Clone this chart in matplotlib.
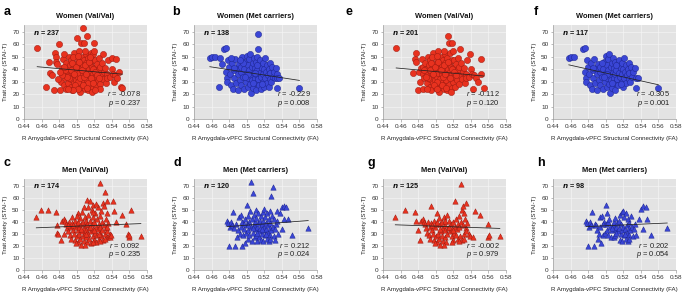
import matplotlib
matplotlib.use("Agg")
import matplotlib.pyplot as plt

plt.rcParams['font.family'] = ['Liberation Sans', 'DejaVu Sans']
plt.rcParams['mathtext.fontset'] = 'custom'
plt.rcParams['mathtext.it'] = 'Liberation Sans:italic'
plt.rcParams['mathtext.bf'] = 'Liberation Sans:bold'

# ---------------- data ----------------
titles = ["Women (Val/Val)", "Women (Met carriers)", "Men (Val/Val)", "Men (Met carriers)",
          "Women (Val/Val)", "Women (Met carriers)", "Men (Val/Val)", "Men (Met carriers)"]
letters = ["a", "b", "c", "d", "e", "f", "g", "h"]
n_vals = [237, 138, 174, 120, 201, 117, 125, 98]
r_vals = ["-0.078", "-0.229", "0.092", "0.212", "-0.112", "-0.305", "-0.002", "0.202"]
p_vals = ["0.237", "0.008", "0.235", "0.024", "0.120", "0.001", "0.979", "0.054"]
# fitted line values at the smallest and largest FA of each panel
fit_y = [[42, 36], [42, 31], [35, 38.5], [36, 41], [41, 34.5], [43.5, 27.5], [37.5, 34.5], [36, 39]]

a_x = [0.455, 0.465, 0.468, 0.470, 0.472, 0.474, 0.475, 0.476, 0.476, 0.478,
       0.480, 0.481, 0.482, 0.483, 0.484, 0.485, 0.485, 0.486, 0.487, 0.488,
       0.488, 0.489, 0.490, 0.490, 0.491, 0.492, 0.492, 0.493, 0.494, 0.494,
       0.495, 0.495, 0.496, 0.497, 0.497, 0.498, 0.498, 0.499, 0.500, 0.500,
       0.500, 0.501, 0.501, 0.502, 0.502, 0.503, 0.503, 0.504, 0.504, 0.505,
       0.505, 0.505, 0.506, 0.506, 0.507, 0.507, 0.507, 0.508, 0.508, 0.508,
       0.509, 0.509, 0.510, 0.510, 0.510, 0.511, 0.511, 0.512, 0.512, 0.512,
       0.513, 0.513, 0.514, 0.514, 0.515, 0.515, 0.516, 0.516, 0.517, 0.517,
       0.518, 0.518, 0.519, 0.519, 0.520, 0.520, 0.520, 0.520, 0.521, 0.521,
       0.522, 0.522, 0.523, 0.524, 0.524, 0.525, 0.525, 0.526, 0.527, 0.527,
       0.528, 0.529, 0.530, 0.530, 0.531, 0.532, 0.533, 0.534, 0.535, 0.536,
       0.538, 0.540, 0.540, 0.541, 0.543, 0.544, 0.545, 0.546, 0.548, 0.550,
       0.552, 0.491, 0.493, 0.495, 0.497, 0.499, 0.501, 0.503, 0.504, 0.506,
       0.508, 0.509, 0.511, 0.513, 0.514, 0.516, 0.518, 0.519, 0.521, 0.523,
       0.525, 0.496, 0.502, 0.509, 0.515, 0.489, 0.487, 0.486, 0.483, 0.481,
       0.479, 0.498, 0.502, 0.507, 0.512, 0.517, 0.521, 0.496, 0.490]
a_y = [57, 26, 46, 37, 35, 23, 53, 50, 46, 44,
       60, 23, 30, 41, 48, 52, 36, 27, 33, 45,
       24, 40, 38, 29, 50, 35, 43, 26, 32, 47,
       38, 23, 41, 29, 53, 35, 44, 31, 65, 39,
       25, 48, 34, 42, 28, 55, 37, 22, 45, 61,
       32, 40, 50, 26, 73, 36, 43, 61, 30, 47,
       38, 24, 52, 34, 41, 28, 45, 67, 37, 31,
       49, 23, 40, 35, 44, 27, 38, 53, 32, 42,
       25, 47, 36, 52, 61, 55, 30, 41, 47, 34,
       38, 26, 44, 31, 36, 49, 40, 28, 24, 42,
       35, 45, 52, 32, 38, 41, 29, 36, 33, 47,
       34, 40, 49, 36, 30, 35, 48, 33, 38, 26,
       25, 33, 39, 45, 36, 42, 30, 46, 33, 39,
       34, 43, 36, 29, 46, 33, 40, 29, 38, 35,
       33, 50, 51, 55, 50, 34, 39, 42, 35, 38,
       32, 27, 24, 27, 25, 22, 23, 23, 24]

b_x = [0.458, 0.461, 0.464, 0.468, 0.470, 0.472, 0.474, 0.476, 0.476, 0.477,
       0.478, 0.479, 0.480, 0.481, 0.482, 0.483, 0.484, 0.485, 0.486, 0.487,
       0.488, 0.489, 0.490, 0.490, 0.491, 0.492, 0.493, 0.494, 0.494, 0.495,
       0.496, 0.497, 0.497, 0.498, 0.499, 0.500, 0.500, 0.501, 0.501, 0.502,
       0.503, 0.503, 0.504, 0.504, 0.505, 0.505, 0.506, 0.506, 0.507, 0.507,
       0.508, 0.508, 0.509, 0.509, 0.510, 0.510, 0.511, 0.511, 0.512, 0.512,
       0.513, 0.513, 0.513, 0.514, 0.514, 0.515, 0.515, 0.516, 0.516, 0.517,
       0.518, 0.518, 0.519, 0.520, 0.520, 0.521, 0.521, 0.522, 0.523, 0.523,
       0.524, 0.525, 0.525, 0.526, 0.527, 0.527, 0.528, 0.529, 0.530, 0.531,
       0.532, 0.533, 0.534, 0.535, 0.535, 0.537, 0.496, 0.502, 0.507, 0.512,
       0.517, 0.509, 0.498, 0.492, 0.486, 0.482, 0.560]
b_y = [49, 50, 50, 26, 49, 44, 56, 57, 38, 33,
       30, 47, 42, 36, 27, 45, 24, 39, 33, 48,
       29, 41, 23, 36, 44, 31, 38, 27, 42, 50,
       34, 24, 40, 46, 30, 37, 51, 26, 43, 33,
       39, 48, 28, 52, 35, 21, 42, 31, 45, 25,
       37, 49, 33, 41, 29, 46, 36, 23, 39, 50,
       68, 56, 32, 44, 27, 37, 47, 34, 24, 41,
       30, 45, 36, 26, 40, 33, 49, 38, 29, 43,
       35, 26, 40, 32, 45, 37, 30, 42, 34, 38,
       33, 41, 36, 25, 33, 33, 45, 36, 29, 43,
       28, 37, 34, 47, 41, 49, 25]

c_x = [0.454, 0.459, 0.467, 0.476, 0.477, 0.478, 0.479, 0.482, 0.483, 0.485,
       0.487, 0.488, 0.489, 0.490, 0.491, 0.492, 0.493, 0.494, 0.495, 0.495,
       0.496, 0.497, 0.498, 0.498, 0.499, 0.500, 0.500, 0.501, 0.501, 0.502,
       0.502, 0.503, 0.503, 0.504, 0.504, 0.505, 0.505, 0.506, 0.506, 0.507,
       0.507, 0.508, 0.508, 0.509, 0.509, 0.510, 0.510, 0.511, 0.511, 0.512,
       0.512, 0.512, 0.513, 0.513, 0.514, 0.514, 0.515, 0.515, 0.516, 0.516,
       0.517, 0.517, 0.518, 0.518, 0.519, 0.519, 0.520, 0.520, 0.521, 0.521,
       0.522, 0.522, 0.523, 0.523, 0.524, 0.524, 0.525, 0.525, 0.526, 0.526,
       0.527, 0.527, 0.528, 0.528, 0.529, 0.529, 0.530, 0.530, 0.531, 0.531,
       0.532, 0.532, 0.533, 0.533, 0.534, 0.534, 0.535, 0.535, 0.536, 0.537,
       0.538, 0.538, 0.539, 0.541, 0.543, 0.545, 0.551, 0.556, 0.558, 0.560,
       0.560, 0.562, 0.573, 0.496, 0.500, 0.505, 0.510, 0.515, 0.520, 0.525,
       0.490, 0.486, 0.508, 0.513, 0.518, 0.522, 0.499, 0.509, 0.519, 0.527,
       0.532, 0.535]
c_y = [44, 50, 50, 48, 37, 31, 30, 25, 41, 42,
       41, 38, 35, 32, 40, 29, 36, 26, 39, 44,
       33, 30, 41, 25, 36, 28, 38, 47, 33, 23,
       40, 30, 36, 26, 43, 21, 38, 32, 48, 28,
       40, 35, 24, 44, 31, 37, 27, 41, 33, 58,
       23, 38, 30, 46, 35, 26, 57, 41, 32, 22,
       38, 50, 28, 44, 34, 54, 25, 40, 31, 47,
       36, 23, 42, 29, 34, 52, 38, 26, 45, 31,
       72, 36, 28, 49, 40, 33, 56, 25, 37, 53,
       65, 30, 42, 35, 27, 47, 57, 32, 39, 28,
       30, 27, 29, 57, 49, 40, 46, 38, 30, 27,
       29, 50, 28, 37, 45, 34, 30, 36, 33, 30,
       37, 30, 52, 52, 48, 55, 22, 21, 23, 24,
       26, 36]

d_x = [0.478, 0.479, 0.480, 0.481, 0.482, 0.483, 0.484, 0.486, 0.487, 0.488,
       0.489, 0.490, 0.491, 0.492, 0.493, 0.494, 0.495, 0.495, 0.496, 0.497,
       0.498, 0.498, 0.499, 0.500, 0.500, 0.501, 0.501, 0.502, 0.503, 0.503,
       0.504, 0.505, 0.505, 0.506, 0.506, 0.507, 0.507, 0.508, 0.508, 0.509,
       0.509, 0.510, 0.510, 0.511, 0.511, 0.512, 0.512, 0.513, 0.513, 0.514,
       0.514, 0.515, 0.515, 0.516, 0.516, 0.517, 0.517, 0.518, 0.518, 0.519,
       0.519, 0.520, 0.520, 0.521, 0.521, 0.522, 0.522, 0.523, 0.523, 0.524,
       0.524, 0.525, 0.525, 0.526, 0.526, 0.527, 0.527, 0.528, 0.528, 0.529,
       0.530, 0.530, 0.531, 0.531, 0.532, 0.533, 0.534, 0.535, 0.536, 0.538,
       0.540, 0.540, 0.542, 0.543, 0.545, 0.547, 0.551, 0.570, 0.497, 0.502,
       0.507, 0.512, 0.517, 0.522, 0.527, 0.532]
d_y = [41, 39, 20, 36, 40, 37, 48, 35, 20, 38,
       27, 33, 44, 30, 36, 46, 20, 40, 29, 34,
       22, 42, 31, 38, 54, 26, 45, 33, 40, 29,
       49, 73, 36, 24, 42, 64, 31, 37, 46, 27,
       40, 34, 50, 29, 43, 36, 24, 39, 47, 32,
       27, 41, 35, 25, 45, 38, 30, 48, 33, 24,
       41, 36, 51, 29, 44, 34, 39, 26, 47, 31,
       37, 42, 24, 35, 49, 29, 39, 61, 33, 45,
       69, 36, 28, 42, 34, 38, 49, 41, 30, 47,
       52, 34, 42, 53, 52, 42, 29, 35, 38, 37,
       35, 31, 34, 30, 26, 25]

e_x = [0.455, 0.474, 0.476, 0.477, 0.478, 0.480, 0.481, 0.482, 0.483, 0.484,
       0.485, 0.485, 0.486, 0.487, 0.488, 0.489, 0.490, 0.490, 0.491, 0.492,
       0.493, 0.494, 0.494, 0.495, 0.495, 0.496, 0.497, 0.497, 0.498, 0.498,
       0.499, 0.500, 0.500, 0.501, 0.501, 0.502, 0.502, 0.503, 0.503, 0.504,
       0.504, 0.505, 0.505, 0.506, 0.506, 0.507, 0.507, 0.508, 0.508, 0.509,
       0.509, 0.510, 0.510, 0.510, 0.511, 0.511, 0.512, 0.512, 0.513, 0.513,
       0.514, 0.514, 0.515, 0.515, 0.515, 0.516, 0.516, 0.517, 0.517, 0.518,
       0.518, 0.519, 0.519, 0.520, 0.520, 0.520, 0.521, 0.521, 0.522, 0.522,
       0.523, 0.524, 0.525, 0.525, 0.526, 0.527, 0.528, 0.528, 0.529, 0.530,
       0.531, 0.532, 0.533, 0.534, 0.535, 0.536, 0.538, 0.539, 0.540, 0.541,
       0.542, 0.544, 0.546, 0.548, 0.551, 0.552, 0.555, 0.491, 0.493, 0.495,
       0.497, 0.499, 0.501, 0.503, 0.506, 0.508, 0.509, 0.511, 0.514, 0.516,
       0.518, 0.521, 0.523, 0.496, 0.502, 0.509, 0.489, 0.487, 0.498, 0.502,
       0.507, 0.512, 0.517, 0.490]
e_y = [57, 37, 48, 53, 46, 23, 38, 30, 41, 48,
       24, 36, 42, 33, 45, 40, 29, 35, 50, 43,
       26, 32, 47, 38, 23, 41, 29, 53, 35, 44,
       31, 39, 25, 48, 34, 42, 28, 55, 37, 22,
       45, 32, 40, 50, 26, 36, 43, 30, 47, 38,
       24, 52, 34, 41, 28, 45, 37, 31, 49, 23,
       67, 40, 61, 44, 27, 38, 53, 32, 42, 25,
       47, 61, 36, 55, 30, 41, 47, 34, 38, 26,
       44, 31, 49, 40, 28, 42, 56, 35, 45, 32,
       38, 41, 29, 36, 33, 47, 34, 52, 40, 36,
       24, 35, 33, 30, 48, 36, 25, 33, 39, 45,
       36, 42, 30, 46, 39, 34, 43, 36, 46, 33,
       40, 38, 35, 50, 51, 55, 34, 39, 27, 24,
       27, 25, 22, 24]

f_x = [0.458, 0.461, 0.464, 0.474, 0.476, 0.476, 0.477, 0.478, 0.479, 0.480,
       0.481, 0.482, 0.483, 0.484, 0.485, 0.486, 0.487, 0.488, 0.489, 0.490,
       0.490, 0.491, 0.492, 0.493, 0.494, 0.494, 0.496, 0.497, 0.497, 0.498,
       0.499, 0.500, 0.500, 0.501, 0.501, 0.502, 0.503, 0.503, 0.504, 0.504,
       0.505, 0.505, 0.506, 0.506, 0.507, 0.507, 0.508, 0.508, 0.509, 0.509,
       0.510, 0.510, 0.511, 0.511, 0.512, 0.513, 0.514, 0.514, 0.515, 0.515,
       0.516, 0.517, 0.518, 0.518, 0.519, 0.520, 0.520, 0.521, 0.521, 0.522,
       0.523, 0.523, 0.524, 0.525, 0.526, 0.527, 0.527, 0.528, 0.529, 0.530,
       0.531, 0.533, 0.534, 0.535, 0.537, 0.496, 0.502, 0.507, 0.512, 0.517,
       0.498, 0.486, 0.560]
f_y = [49, 50, 50, 56, 57, 38, 33, 30, 47, 42,
       36, 27, 45, 24, 39, 33, 48, 29, 41, 23,
       36, 44, 31, 38, 27, 42, 34, 24, 40, 46,
       30, 37, 51, 26, 43, 33, 39, 48, 28, 52,
       35, 21, 42, 31, 45, 25, 37, 49, 33, 41,
       29, 46, 36, 23, 39, 32, 44, 27, 37, 47,
       34, 41, 30, 45, 36, 26, 40, 33, 49, 38,
       29, 43, 35, 40, 32, 45, 37, 30, 42, 34,
       38, 41, 33, 25, 33, 45, 36, 29, 43, 28,
       34, 41, 25]

g_x = [0.454, 0.465, 0.476, 0.478, 0.480, 0.482, 0.483, 0.485, 0.487, 0.488,
       0.489, 0.490, 0.491, 0.492, 0.493, 0.494, 0.495, 0.495, 0.496, 0.497,
       0.498, 0.498, 0.499, 0.500, 0.500, 0.501, 0.502, 0.502, 0.503, 0.504,
       0.504, 0.505, 0.505, 0.506, 0.507, 0.507, 0.508, 0.508, 0.509, 0.510,
       0.510, 0.511, 0.511, 0.512, 0.513, 0.513, 0.514, 0.515, 0.516, 0.517,
       0.518, 0.519, 0.520, 0.520, 0.521, 0.522, 0.522, 0.523, 0.523, 0.524,
       0.525, 0.525, 0.526, 0.527, 0.528, 0.529, 0.529, 0.530, 0.530, 0.531,
       0.531, 0.532, 0.532, 0.533, 0.534, 0.535, 0.535, 0.536, 0.538, 0.539,
       0.543, 0.545, 0.550, 0.560, 0.560, 0.561, 0.573, 0.496, 0.505, 0.515,
       0.520, 0.499, 0.509, 0.519, 0.527, 0.532]
g_y = [44, 50, 48, 41, 33, 25, 41, 42, 40, 38,
       35, 31, 40, 29, 36, 26, 39, 53, 33, 30,
       41, 25, 36, 28, 38, 47, 23, 40, 30, 26,
       43, 21, 38, 32, 28, 40, 35, 24, 44, 37,
       27, 41, 33, 23, 30, 46, 35, 41, 32, 38,
       28, 34, 25, 40, 31, 57, 36, 42, 29, 34,
       38, 26, 45, 36, 28, 71, 40, 25, 50, 37,
       53, 47, 30, 42, 35, 56, 32, 39, 30, 28,
       27, 49, 46, 38, 27, 29, 28, 37, 34, 36,
       33, 22, 21, 23, 24, 26]

h_x = [0.478, 0.479, 0.480, 0.481, 0.482, 0.483, 0.484, 0.487, 0.488, 0.489,
       0.490, 0.491, 0.492, 0.493, 0.494, 0.495, 0.496, 0.497, 0.498, 0.499,
       0.500, 0.500, 0.501, 0.502, 0.503, 0.503, 0.504, 0.505, 0.506, 0.507,
       0.508, 0.509, 0.509, 0.510, 0.511, 0.511, 0.512, 0.513, 0.514, 0.515,
       0.515, 0.516, 0.516, 0.517, 0.517, 0.518, 0.518, 0.519, 0.520, 0.520,
       0.521, 0.521, 0.522, 0.523, 0.523, 0.524, 0.524, 0.525, 0.525, 0.526,
       0.527, 0.527, 0.528, 0.529, 0.530, 0.531, 0.532, 0.533, 0.535, 0.538,
       0.540, 0.543, 0.543, 0.546, 0.547, 0.551, 0.570, 0.497, 0.507, 0.512,
       0.522, 0.527]
h_y = [41, 39, 20, 36, 40, 37, 48, 20, 38, 37,
       33, 26, 30, 36, 44, 22, 45, 29, 40, 31,
       54, 38, 47, 33, 40, 29, 42, 36, 27, 33,
       37, 27, 40, 34, 29, 43, 36, 39, 32, 41,
       35, 25, 46, 38, 30, 48, 33, 24, 36, 49,
       29, 44, 34, 26, 47, 31, 37, 42, 24, 35,
       29, 39, 33, 45, 36, 28, 34, 38, 29, 42,
       51, 53, 34, 52, 42, 29, 35, 38, 35, 31,
       30, 26]

xs = [a_x, b_x, c_x, d_x, e_x, f_x, g_x, h_x]
ys = [a_y, b_y, c_y, d_y, e_y, f_y, g_y, h_y]

# ---------------- layout ----------------
W, H = 685, 301
fig = plt.figure(figsize=(W / 100, H / 100), dpi=100)

col_left = [24, 194, 383, 553]
ax_w = 123
row_top = [25, 179]
row_bot = [119, 270]
letter_pos = [(4, 12), (172, 12), (3, 163), (173, 163), (346, 12), (534, 12), (367, 163), (537, 163)]

red_face, red_edge = '#e8321f', '#9c1a10'
blue_face, blue_edge = '#3a46d6', '#1c2590'

xticks = [0.44, 0.46, 0.48, 0.5, 0.52, 0.54, 0.56, 0.58]
xticklabels = ["0.44", "0.46", "0.48", "0.5", "0.52", "0.54", "0.56", "0.58"]
yticks = [0, 10, 20, 30, 40, 50, 60, 70]

for i in range(8):
    col = (i // 4) * 2 + (i % 2)
    row = (i % 4) // 2
    left = col_left[col]
    top, bot = row_top[row], row_bot[row]
    ax = fig.add_axes([left / W, 1 - bot / H, ax_w / W, (bot - top) / H])
    ax.set_facecolor('#e3e3e3')
    ax.set_xlim(0.44, 0.58)
    ax.set_ylim(0, 75.5)
    ax.set_xticks(xticks)
    ax.set_xticklabels(xticklabels)
    ax.set_yticks(yticks)
    ax.grid(True, color='#f4f4f4', linewidth=0.5)
    ax.set_axisbelow(True)
    for s in ['top', 'right']:
        ax.spines[s].set_visible(False)
    for s in ['left', 'bottom']:
        ax.spines[s].set_color('#9a9a9a')
        ax.spines[s].set_linewidth(0.5)
    ax.tick_params(axis='both', labelsize=4.6, length=1.8, width=0.4, color='#888888', pad=1.5,
                   labelcolor='#333333')

    women = i in (0, 1, 4, 5)
    val = i in (0, 2, 4, 6)
    face, edge = (red_face, red_edge) if val else (blue_face, blue_edge)
    marker = 'o' if women else '^'
    size = 20 if women else 15
    ax.scatter(xs[i], ys[i], s=size, marker=marker, facecolor=face, edgecolor=edge,
               linewidths=0.35, zorder=3)
    x0, x1 = min(xs[i]), max(xs[i])
    ax.plot([x0, x1], fit_y[i], color='#222222', linewidth=0.55, zorder=4)

    ax.set_title(titles[i], fontsize=5.4, fontweight='bold', pad=5, color='#111111')
    ax.set_xlabel("R Amygdala-vPFC Structural Connectivity (FA)", fontsize=4.4, labelpad=5, color='#222222')
    ax.set_ylabel("Trait Anxiety (STAI-T)", fontsize=4.4, labelpad=3, color='#222222')
    ax.text(0.07, 0.925, r'$\mathbfit{n}$ = %d' % n_vals[i], transform=ax.transAxes,
            fontsize=5.2, fontweight='bold', va='center', ha='left', color='#111111')
    ax.text(0.95, 0.27, r'$\it{r}$ = ' + r_vals[i], transform=ax.transAxes,
            fontsize=5.4, va='center', ha='right', color='#222222')
    ax.text(0.95, 0.17, r'$\it{p}$ = ' + p_vals[i], transform=ax.transAxes,
            fontsize=5.4, va='center', ha='right', color='#222222')

    lx, ly = letter_pos[i]
    fig.text(lx / W, 1 - ly / H, letters[i], fontsize=9, fontweight='bold', va='center', ha='left')

fig.savefig('out.png', dpi=100)
